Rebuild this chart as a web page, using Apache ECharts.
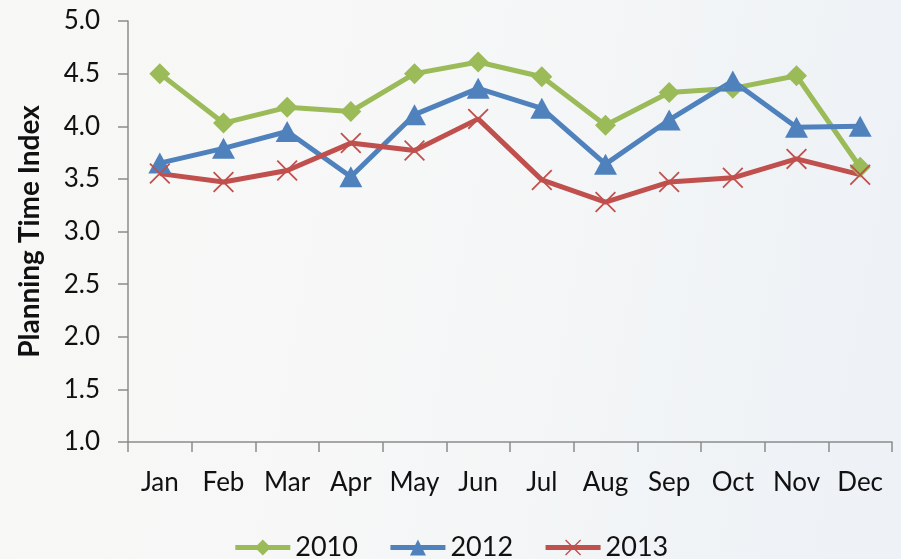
<!DOCTYPE html>
<html>
<head>
<meta charset="utf-8">
<script src="https://cdn.jsdelivr.net/npm/echarts@6/dist/echarts.min.js"></script>
<style>
html,body{margin:0;padding:0;}
#c{width:901px;height:559px;}
</style>
</head>
<body>
<div id="c"></div>
<script>
var months = ['Jan','Feb','Mar','Apr','May','Jun','Jul','Aug','Sep','Oct','Nov','Dec'];
var s2010 = [4.50,4.03,4.18,4.14,4.50,4.61,4.47,4.01,4.32,4.36,4.48,3.61];
var s2012 = [3.65,3.79,3.95,3.52,4.11,4.36,4.17,3.64,4.06,4.43,3.99,4.00];
var s2013 = [3.55,3.47,3.58,3.84,3.77,4.07,3.49,3.28,3.47,3.51,3.69,3.54];
var yTicks = ['1.0','1.5','2.0','2.5','3.0','3.5','4.0','4.5','5.0'];

var FONT = 'Lato';
var crossPath = 'path://M0,1.2L1.2,0L20,18.8L18.8,20Z M18.8,0L20,1.2L1.2,20L0,18.8Z';

var chart = echarts.init(document.getElementById('c'), null, {renderer:'canvas'});
chart.setOption({
  backgroundColor: {
    type:'linear', x:0, y:0, x2:1, y2:0.3,
    colorStops:[{offset:0,color:'#f8f8f6'},{offset:0.5,color:'#f6f7f7'},{offset:1,color:'#eef2f6'}]
  },
  animation:false,
  grid:{left:128, right:9, top:21, bottom:117, containLabel:false},
  legend:{
    bottom:-7, left:'center',
    itemWidth:55, itemHeight:20, itemGap:30,
    lineStyle:{width:5},
    textStyle:{fontFamily:FONT, fontSize:27, color:'#111'},
    data:['2010','2012','2013']
  },
  xAxis:{
    type:'category', data:months, boundaryGap:true,
    axisLine:{lineStyle:{color:'#8c8c8c', width:1.5}},
    axisTick:{show:true, interval:0, length:10, lineStyle:{color:'#8c8c8c', width:1.5}},
    axisLabel:{interval:0, hideOverlap:false, fontFamily:FONT, fontSize:26, color:'#111', margin:28}
  },
  yAxis:{
    type:'value', min:1, max:5, interval:0.5,
    name:'Planning Time Index', nameLocation:'middle', nameGap:84, nameRotate:90,
    nameTextStyle:{fontFamily:FONT, fontSize:28, fontWeight:'bold', color:'#111'},
    axisLine:{show:true, lineStyle:{color:'#8c8c8c', width:1.5}},
    axisTick:{show:true, length:10, lineStyle:{color:'#8c8c8c', width:1.5}},
    splitLine:{show:false},
    axisLabel:{fontFamily:FONT, fontSize:26, color:'#111', margin:28,
      formatter:function(v){ return yTicks[Math.round((v-1)/0.5)]; }}
  },
  series:[
    {name:'2010', type:'line', data:s2010, symbol:'diamond', symbolSize:21,
     lineStyle:{color:'#9BBB59', width:5}, itemStyle:{color:'#9BBB59'}},
    {name:'2012', type:'line', data:s2012, symbol:'triangle', symbolSize:[23,21],
     lineStyle:{color:'#4F81BD', width:5}, itemStyle:{color:'#4F81BD'}},
    {name:'2013', type:'line', data:s2013, symbol:crossPath, symbolSize:21,
     lineStyle:{color:'#C0504D', width:5}, itemStyle:{color:'#C0504D'}}
  ]
});
</script>
</body>
</html>
